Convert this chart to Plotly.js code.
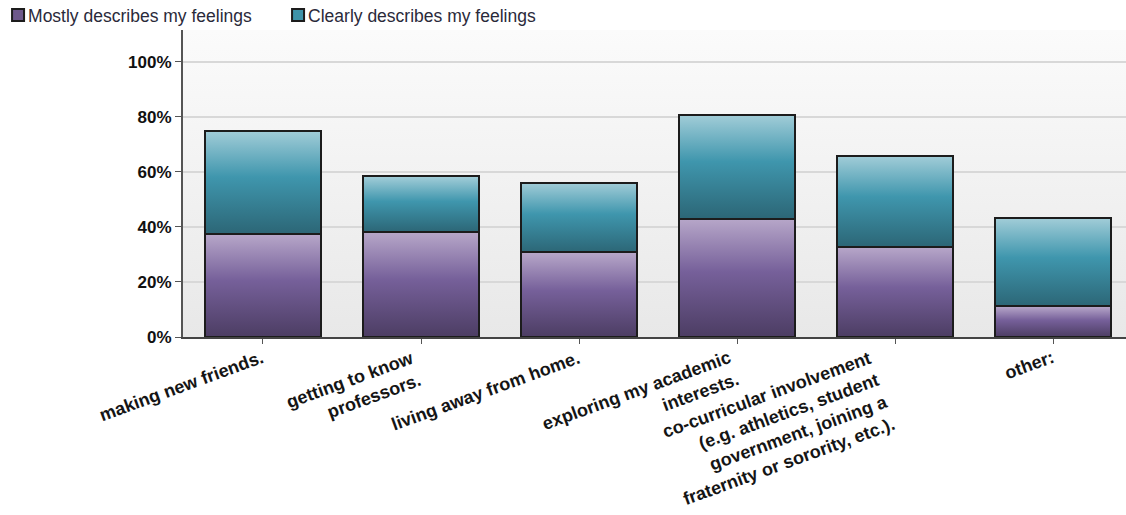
<!DOCTYPE html>
<html>
<head>
<meta charset="utf-8">
<script src="https://cdn.plot.ly/plotly-3.0.1.min.js"></script>
<style>
html,body{margin:0;padding:0;background:#fff;}
#chart{width:1126px;height:515px;}
</style>
</head>
<body>
<div id="chart"></div>
<script>
const categories = [
  "making new friends.",
  "getting to know professors.",
  "living away from home.",
  "exploring my academic interests.",
  "co-curricular involvement (e.g. athletics, student government, joining a fraternity or sorority, etc.).",
  "other:"
];
const tickLabels = [
  "making new friends.",
  "getting to know<br>professors.",
  "living away from home.",
  "exploring my academic<br>interests.",
  "co-curricular involvement<br>(e.g. athletics, student<br>government, joining a<br>fraternity or sorority, etc.).",
  "other:"
];
const mostly = [37.4, 38.1, 30.7, 43.0, 32.7, 11.1];
const clearly = [37.6, 20.2, 25.4, 37.7, 33.1, 32.2];
const yTicks = [0, 20, 40, 60, 80, 100];
const yTickLabels = ["0%", "20%", "40%", "60%", "80%", "100%"];

const traces = [
  {type:"bar", name:"Mostly describes my feelings", x:categories, y:mostly,
   marker:{color:"#6d588b", line:{color:"#1c1c1c", width:2}}, hoverinfo:"none"},
  {type:"bar", name:"Clearly describes my feelings", x:categories, y:clearly,
   marker:{color:"#3e93a9", line:{color:"#1c1c1c", width:2}}, hoverinfo:"none"}
];

const labelAnnotations = categories.map((c, i) => ({
  x: c, xref: "x", y: 0, yref: "paper", yshift: -9, xshift: 5,
  xanchor: "right", yanchor: "top", textangle: -20, align: "right",
  text: tickLabels[i], showarrow: false, borderpad: 0,
  font: {size: 18, weight: "bold", color: "#151515"}
}));

const layout = {
  width:1126, height:515,
  margin:{l:183, r:0, t:30, b:178},
  barmode:"stack", bargap:0.266,
  paper_bgcolor:"#ffffff", plot_bgcolor:"#f1f1f1",
  font:{family:"Arial, 'Liberation Sans', sans-serif", color:"#111"},
  showlegend:true,
  legend:{orientation:"h", x:-0.194, xanchor:"left", y:1.0977, yanchor:"top",
    font:{size:17.5, color:"#2a2a3a"}, entrywidth:235, entrywidthmode:"pixels",
    traceorder:"normal", bgcolor:"rgba(0,0,0,0)"},
  xaxis:{type:"category", range:[-0.506, 5.46], tickvals:categories, showticklabels:false,
    ticks:"outside", ticklen:5, tickcolor:"#555", tickwidth:1,
    showline:true, linecolor:"#444", linewidth:2, showgrid:false},
  yaxis:{range:[0, 111.5], tickvals:yTicks, ticktext:yTickLabels, ticks:"outside", ticklen:6,
    tickcolor:"#555", showline:true, linecolor:"#555", linewidth:2,
    gridcolor:"#d8d8d8", gridwidth:2, zeroline:false,
    tickfont:{size:17, weight:"bold", color:"#111"}},
  annotations: labelAnnotations
};

Plotly.newPlot("chart", traces, layout, {displayModeBar:false, staticPlot:true}).then(gd => {
  const svg = gd.querySelector(".main-svg");
  const ns = "http://www.w3.org/2000/svg";
  let defs = svg.querySelector("defs");
  if (!defs) { defs = document.createElementNS(ns, "defs"); svg.insertBefore(defs, svg.firstChild); }
  function grad(id, stops) {
    const g = document.createElementNS(ns, "linearGradient");
    g.setAttribute("id", id); g.setAttribute("x1","0"); g.setAttribute("y1","0");
    g.setAttribute("x2","0"); g.setAttribute("y2","1");
    stops.forEach(s => {
      const st = document.createElementNS(ns, "stop");
      st.setAttribute("offset", s[0]); st.setAttribute("stop-color", s[1]);
      g.appendChild(st);
    });
    defs.appendChild(g);
  }
  grad("gM", [[0,"#b7a7c9"],[0.45,"#76609a"],[1,"#4c3d63"]]);
  grad("gC", [[0,"#a2cdd8"],[0.45,"#3f96ad"],[1,"#2c6676"]]);
  grad("gBG", [[0,"#fbfbfb"],[1,"#e8e8e8"]]);
  const bars = gd.querySelectorAll(".barlayer .trace.bars");
  const ids = ["gM","gC"];
  bars.forEach((t, i) => {
    t.querySelectorAll(".point path").forEach(p => { p.style.fill = "url(#" + ids[i] + ")"; });
  });
  const bg = gd.querySelector(".bglayer .bg");
  if (bg) bg.style.fill = "url(#gBG)";
  // tighten legend symbol-text gap
  gd.querySelectorAll(".legend .legendtext").forEach(t => t.setAttribute("x", "30"));
  const lg = gd.querySelector(".legend .scrollbox");
  if (lg) lg.setAttribute("transform", "translate(-2,-3)");
});
</script>
</body>
</html>
